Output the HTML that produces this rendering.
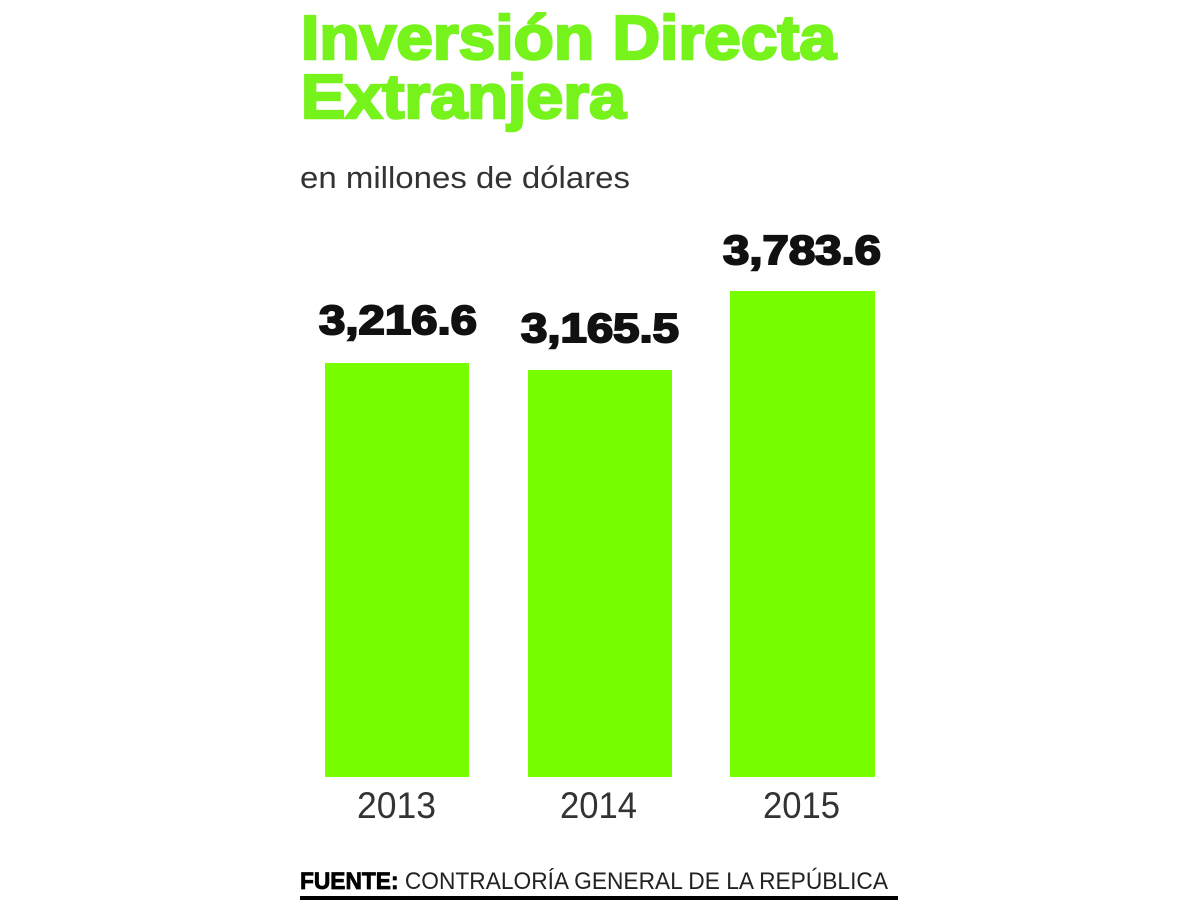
<!DOCTYPE html>
<html><head><meta charset="utf-8"><style>
html,body{margin:0;padding:0;background:#fff;}
svg{display:block;}
</style></head><body>
<svg width="1200" height="900" viewBox="0 0 1200 900" xmlns="http://www.w3.org/2000/svg">
<rect width="1200" height="900" fill="#fff"/>
<g font-family="Liberation Sans, sans-serif">
<text x="301" y="59" font-size="62" font-weight="bold" fill="#77f31c" stroke="#77f31c" stroke-width="2.5" textLength="535" lengthAdjust="spacingAndGlyphs">Inversión Directa</text>
<text x="301" y="118" font-size="62" font-weight="bold" fill="#77f31c" stroke="#77f31c" stroke-width="2.5" textLength="325" lengthAdjust="spacingAndGlyphs">Extranjera</text>
<text x="300" y="188" font-size="31" fill="#333" textLength="330" lengthAdjust="spacingAndGlyphs">en millones de dólares</text>
<rect x="325" y="363" width="144" height="414" fill="#77ff00"/>
<rect x="528" y="370" width="144" height="407" fill="#77ff00"/>
<rect x="730" y="291" width="145" height="486" fill="#77ff00"/>
<g font-size="41" font-weight="bold" fill="#111" stroke="#111" stroke-width="2">
<text x="319" y="334" textLength="158" lengthAdjust="spacingAndGlyphs">3,216.6</text>
<text x="521" y="342" textLength="158" lengthAdjust="spacingAndGlyphs">3,165.5</text>
<text x="723" y="264" textLength="158" lengthAdjust="spacingAndGlyphs">3,783.6</text>
</g>
<g font-size="37" fill="#333">
<text x="357" y="818" textLength="79" lengthAdjust="spacingAndGlyphs">2013</text>
<text x="560" y="818" textLength="77" lengthAdjust="spacingAndGlyphs">2014</text>
<text x="763" y="818" textLength="77" lengthAdjust="spacingAndGlyphs">2015</text>
</g>
<text x="300" y="889" font-size="24" fill="#222" textLength="588" lengthAdjust="spacingAndGlyphs"><tspan font-weight="bold" fill="#000" stroke="#000" stroke-width="0.8">FUENTE:</tspan> CONTRALORÍA GENERAL DE LA REPÚBLICA</text>
<rect x="300" y="896" width="598" height="4" fill="#000"/>
</g>
</svg>
</body></html>
